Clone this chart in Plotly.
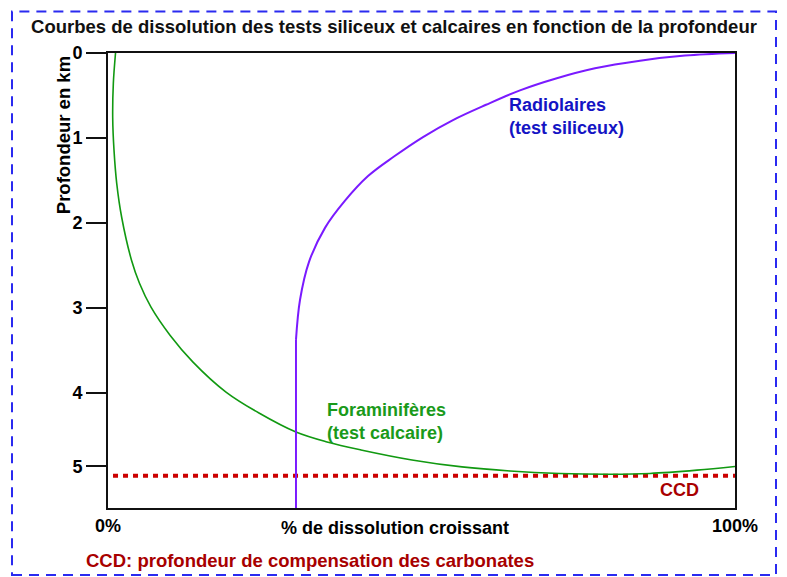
"""Courbes de dissolution des tests siliceux et calcaires."""

import plotly.graph_objects as go

# Foraminiferes (test calcaire): % dissolution vs profondeur (km)
fora_x = [1.20, 0.85, 0.75, 0.96, 1.39, 2.18, 3.75, 5.02, 6.86, 9.89, 13.56, 18.82,
          24.08, 29.98, 34.93, 40.35, 48.48, 56.46, 64.11, 72.09, 80.06, 86.44, 93.94, 100]
fora_y = [0.0, 0.359, 0.759, 1.147, 1.535, 1.935, 2.441, 2.712, 2.994, 3.324, 3.641, 3.994,
          4.241, 4.465, 4.582, 4.676, 4.794, 4.876, 4.924, 4.953, 4.962, 4.953, 4.914, 4.871]

# Radiolaires (test siliceux): partie verticale puis courbe
radio_low_x = [29.98, 29.98]
radio_low_y = [5.36, 3.38]
radio_x = [29.98, 30.62, 32.06, 34.61, 37.80, 41.47, 45.61, 50.24,
           55.02, 60.29, 65.71, 71.45, 77.67, 84.85, 92.03, 100]
radio_y = [3.38, 2.91, 2.46, 2.06, 1.74, 1.45, 1.22, 0.99,
           0.79, 0.61, 0.44, 0.30, 0.18, 0.09, 0.03, 0.0]

# profondeur de compensation des carbonates
ccd_x = [0.8, 100]
ccd_y = [4.98, 4.98]

y_tick_pos = [0, 1, 2, 3, 4, 4.87]
y_tick_text = ["0", "1", "2", "3", "4", "5"]
x_tick_pos = [0, 100]
x_tick_text = ["0%", "100%"]

FONT = "Liberation Sans, Arial, sans-serif"
PURPLE = "#7a1aff"

fig = go.Figure()
fig.add_trace(go.Scatter(x=ccd_x, y=ccd_y, mode="lines",
                         line=dict(color="#cc0000", width=4, dash="5px,5px")))
fig.add_trace(go.Scatter(x=fora_x, y=fora_y, mode="lines",
                         line=dict(color="#119911", width=1.6, shape="spline", smoothing=1)))
fig.add_trace(go.Scatter(x=radio_low_x, y=radio_low_y, mode="lines",
                         line=dict(color=PURPLE, width=2)))
fig.add_trace(go.Scatter(x=radio_x, y=radio_y, mode="lines",
                         line=dict(color=PURPLE, width=2, shape="spline", smoothing=1)))

# page body has an 8px margin, so the figure is 8px smaller and shifted
fig.update_layout(
    width=779, height=569,
    margin=dict(l=100, r=52, t=44.5, b=69),
    paper_bgcolor="white", plot_bgcolor="white",
    showlegend=False,
    font=dict(family=FONT, color="black", size=18, weight="bold"),
    title=dict(text="Courbes de dissolution des tests siliceux et calcaires en fonction de la profondeur",
               x=386 / 779, xref="container", xanchor="center", y=1 - 19 / 569, yanchor="middle",
               font=dict(size=18.5, weight="bold", color="#111111")),
)
fig.update_xaxes(range=[0, 100], tickvals=x_tick_pos, ticktext=x_tick_text,
                 showgrid=False, zeroline=False, showline=True, linewidth=2,
                 linecolor="#111111", mirror=True, ticks="", ticklabelstandoff=0,
                 tickfont=dict(size=18, weight="bold"))
fig.update_yaxes(range=[5.36, 0], tickvals=y_tick_pos, ticktext=y_tick_text,
                 showgrid=False, zeroline=False, showline=True, linewidth=2,
                 linecolor="#111111", mirror=True, ticks="outside", ticklen=20,
                 tickwidth=2, tickcolor="#111111", tickfont=dict(size=18, weight="bold"))

ann = [
    dict(text="Profondeur en km", x=-0.072, y=0.819, textangle=-90, font=dict(size=18.5)),
    dict(text="% de dissolution croissant", x=0.458, y=-0.044, font=dict(size=18)),
    dict(text="Radiolaires<br>(test siliceux)", x=(507 - 108) / 627, y=(508 - 116) / 455.5,
         xanchor="left", align="left", font=dict(size=18, color="#1414c4")),
    dict(text="Foraminifères<br>(test calcaire)", x=(325 - 108) / 627, y=(508 - 421) / 455.5,
         xanchor="left", align="left", font=dict(size=18, color="#1a9a1a")),
    dict(text="CCD", x=(679 - 108) / 627, y=(508 - 490) / 455.5, font=dict(size=18, color="#a80000")),
    dict(text="CCD: profondeur de compensation des carbonates", x=(84 - 108) / 627,
         y=(508 - 561) / 455.5, xanchor="left", font=dict(size=18.5, color="#a80000")),
]
for a in ann:
    a.update(xref="paper", yref="paper", showarrow=False)
    a.setdefault("xanchor", "center")
    a.setdefault("yanchor", "middle")
    fig.add_annotation(**a)

# cadre en tirets bleus
fig.add_shape(type="rect", xref="paper", yref="paper",
              x0=(12 - 108) / 627, x1=(776 - 108) / 627,
              y0=(508 - 575) / 455.5, y1=(508 - 11) / 455.5,
              line=dict(color="#2a2af0", width=2, dash="10px,7px"))

fig.write_html("out.html")
